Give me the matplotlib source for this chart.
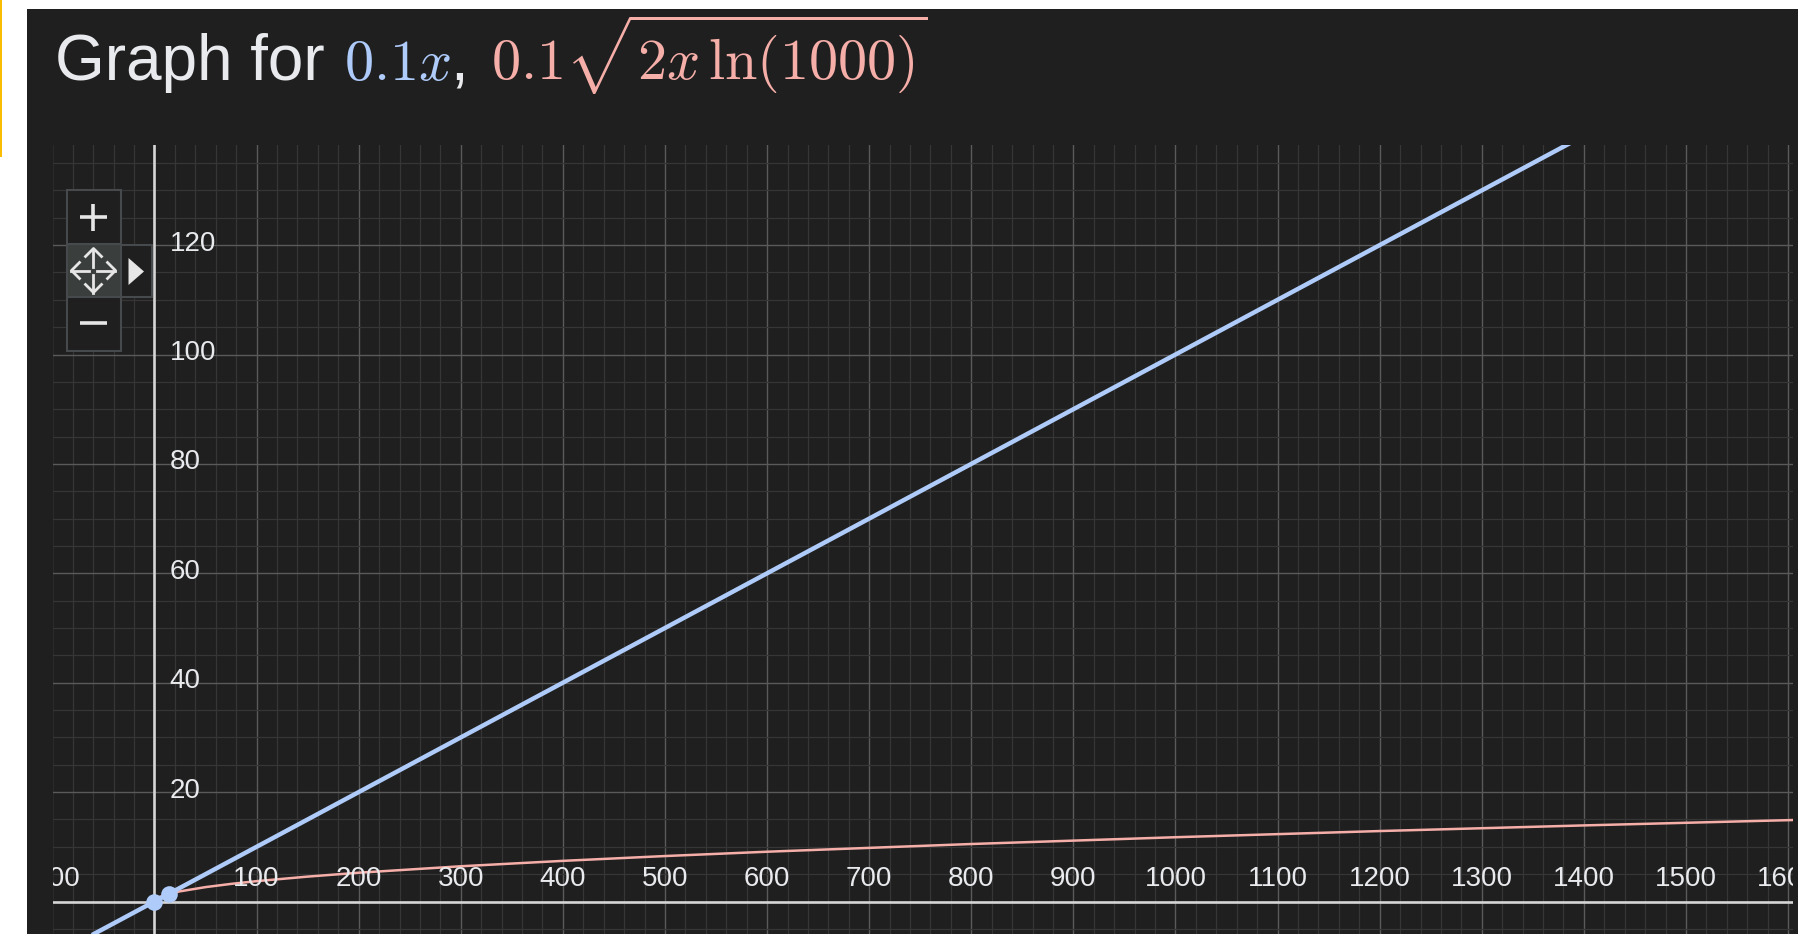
import matplotlib
matplotlib.use('Agg')
import matplotlib.pyplot as plt
import matplotlib.transforms as mtransforms
from matplotlib.patches import Rectangle, Polygon
import numpy as np

plt.rcParams['mathtext.fontset'] = 'cm'

# ---------------- data ----------------
line_x = [-100, 1700]
line_y = [-10.0, 170.0]

curve_x = [0, 5, 13.8, 25, 50, 75, 100, 150, 200, 300, 400, 500, 600,
           800, 1000, 1200, 1400, 1600, 1650]
curve_y = [0.0, 0.83, 1.38, 1.86, 2.63, 3.22, 3.72, 4.55, 5.26, 6.44, 7.43,
           8.31, 9.10, 10.51, 11.75, 12.88, 13.91, 14.87, 15.10]

point_x = [0, 13.8]
point_y = [0, 1.38]

x_tick_values = [-100, 100, 200, 300, 400, 500, 600, 700, 800, 900, 1000,
                 1100, 1200, 1300, 1400, 1500, 1600]
y_tick_values = [20, 40, 60, 80, 100, 120]

# ---------------- style ----------------
BG = '#1f1f1f'
BLUE = '#aecbfa'
PINK = '#f6aea9'
TXT = '#e8eaed'
AXIS = '#d6d6d6'
MAJOR = '#5a5a5a'
MINOR = '#363636'

W, H = 1799, 934
fig = plt.figure(figsize=(W / 100, H / 100), dpi=100)
fig.patch.set_facecolor('white')

# background layer
bg = fig.add_axes([0, 0, 1, 1], zorder=0)
bg.set_xlim(0, W)
bg.set_ylim(H, 0)
bg.axis('off')
bg.add_patch(Rectangle((27.5, 9), W - 27.5, H - 9, facecolor=BG, edgecolor='none'))
bg.add_patch(Rectangle((0, 0), 2.5, 157, facecolor='#fbbc04', edgecolor='none'))

# main plot axes
ax_l, ax_r, ax_t = 53, 1793, 145
ax = fig.add_axes([ax_l / W, 0, (ax_r - ax_l) / W, (H - ax_t) / H], zorder=1)
ax.set_facecolor('none')
for s in ax.spines.values():
    s.set_visible(False)
ax.set_xticks([])
ax.set_yticks([])

x0px, xs = 154.5, 1.021
y0px, ys = 901.5, 5.47
ax.set_xlim((ax_l - x0px) / xs, (ax_r - x0px) / xs)
ax.set_ylim((y0px - H) / ys, (y0px - ax_t) / ys)

# grid
for v in np.arange(-100, 1701, 20):
    if v == 0:
        continue
    major = (v % 100 == 0)
    ax.axvline(v, color=MAJOR if major else MINOR, lw=1.0 if major else 0.9, zorder=1)
for v in np.arange(-10, 141, 5):
    if v == 0:
        continue
    major = (v % 20 == 0)
    ax.axhline(v, color=MAJOR if major else MINOR, lw=1.0 if major else 0.9, zorder=1)

# axes lines
ax.axhline(0, color=AXIS, lw=1.9, zorder=2)
ax.axvline(0, color=AXIS, lw=1.9, zorder=2)

# series
ax.plot(curve_x, curve_y, color=PINK, lw=1.8, zorder=3, solid_capstyle='butt')
ax.plot(line_x, line_y, color=BLUE, lw=3.2, zorder=4, solid_capstyle='butt')
ax.plot(point_x, point_y, 'o', color=BLUE, ms=12, zorder=5, mec='none')

# tick labels
xoff = mtransforms.offset_copy(ax.transData, fig=fig, x=0, y=22.5, units='dots')
for v in x_tick_values:
    ax.text(v, 0, f'{v}', transform=xoff, ha='center', va='center',
            fontsize=20, color=TXT, family='Liberation Sans', clip_on=True, zorder=6)
yoff = mtransforms.offset_copy(ax.transData, fig=fig, x=15, y=1.5, units='dots')
for v in y_tick_values:
    ax.text(0, v, f'{v}', transform=yoff, ha='left', va='center',
            fontsize=20, color=TXT, family='Liberation Sans', clip_on=True, zorder=6)

# title
renderer = fig.canvas.get_renderer()
cur = [55.0]
base = H - 80


def put(s, color, **kw):
    t = fig.text(cur[0] / W, base / H, s, color=color, ha='left', va='baseline', **kw)
    bb = t.get_window_extent(renderer)
    cur[0] = bb.x1
    return t


put('Graph for ', TXT, fontsize=46, family='Liberation Sans')
cur[0] += 2
put(r'$0.1x$', BLUE, fontsize=42)
put(', ', TXT, fontsize=46, family='Liberation Sans')
cur[0] += 4
put(r'$0.1\sqrt{2x\,\ln(1000)}$', PINK, fontsize=42)

# zoom / pan controls overlay
ov = fig.add_axes([0, 0, 1, 1], zorder=10)
ov.set_xlim(0, W)
ov.set_ylim(H, 0)
ov.axis('off')
ov.patch.set_alpha(0)
border = '#464a4c'
ov.add_patch(Rectangle((67, 190), 54, 161, facecolor=BG, edgecolor=border, lw=1.5))
ov.add_patch(Rectangle((67, 243.5), 54, 53.5, facecolor='#3a3f3d', edgecolor=border, lw=1.5))
ov.add_patch(Rectangle((121, 245), 31, 52, facecolor=BG, edgecolor=border, lw=1.5))
IC = '#e6e6e6'
# plus
ov.plot([80, 107], [217, 217], color=IC, lw=2.6, solid_capstyle='butt')
ov.plot([93.5, 93.5], [203.5, 230.5], color=IC, lw=2.6, solid_capstyle='butt')
# minus
ov.plot([80, 107], [323, 323], color=IC, lw=2.6, solid_capstyle='butt')
# pan icon
cx, cy = 93.5, 270.5
r, hd = 22, 8
ov.plot([cx - r, cx - 4], [cy, cy], color=IC, lw=2.0)
ov.plot([cx + 4, cx + r], [cy, cy], color=IC, lw=2.0)
ov.plot([cx, cx], [cy - r, cy - 4], color=IC, lw=2.0)
ov.plot([cx, cx], [cy + 4, cy + r], color=IC, lw=2.0)
ov.plot([cx - r + hd, cx - r, cx - r + hd], [cy - hd, cy, cy + hd], color=IC, lw=2.0)
ov.plot([cx + r - hd, cx + r, cx + r - hd], [cy - hd, cy, cy + hd], color=IC, lw=2.0)
ov.plot([cx - hd, cx, cx + hd], [cy - r + hd, cy - r, cy - r + hd], color=IC, lw=2.0)
ov.plot([cx - hd, cx, cx + hd], [cy + r - hd, cy + r, cy + r - hd], color=IC, lw=2.0)
# triangle
ov.add_patch(Polygon([[128.5, 258], [128.5, 285], [144, 271.5]], closed=True,
                     facecolor=IC, edgecolor='none'))

fig.savefig('out.png', dpi=100, facecolor=fig.get_facecolor())
